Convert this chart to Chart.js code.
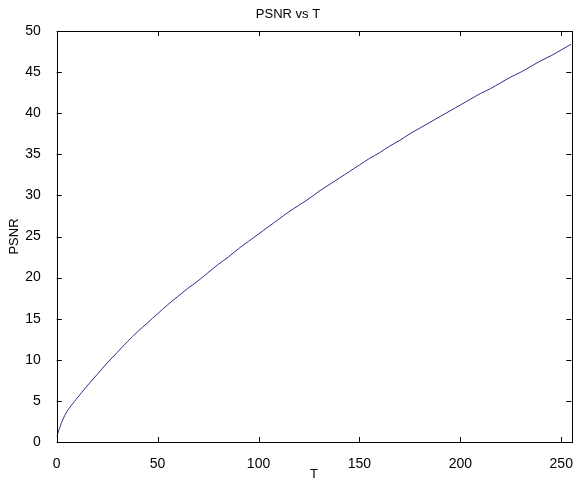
<!DOCTYPE html>
<html>
<head>
<meta charset="utf-8">
<script src="https://cdn.jsdelivr.net/npm/chart.js@4/dist/chart.umd.min.js"></script>
<style>
  html, body { margin: 0; padding: 0; background: #fff; }
  canvas { display: block; }
</style>
</head>
<body>
<canvas id="psnrChart" width="579" height="482"></canvas>
<script>
// T values and PSNR
const tValues = [0, 1, 2, 3, 5, 10, 15, 20, 25, 30, 35, 40, 45, 50, 55, 60, 65, 70, 75, 80, 85, 90, 95,
  100, 105, 110, 115, 120, 125, 130, 135, 140, 145, 150, 155, 160, 165, 170, 175, 180, 185, 190, 195,
  200, 205, 210, 215, 220, 225, 230, 235, 240, 245, 250, 255];
const psnrValues = [0.6, 1.4, 2.1, 2.7, 3.7, 5.3, 6.8, 8.2, 9.6, 10.9, 12.2, 13.4, 14.5, 15.6, 16.7, 17.7, 18.7, 19.6, 20.6, 21.6, 22.5, 23.5, 24.4,
  25.3, 26.2, 27.1, 28.0, 28.8, 29.6, 30.5, 31.3, 32.1, 32.9, 33.7, 34.5, 35.2, 36.0, 36.7, 37.5, 38.2, 38.9, 39.6, 40.3,
  41.0, 41.7, 42.4, 43.0, 43.7, 44.4, 45.0, 45.7, 46.4, 47.0, 47.7, 48.4];
const xTicks = [0, 50, 100, 150, 200, 250];
const yTicks = [0, 5, 10, 15, 20, 25, 30, 35, 40, 45, 50];

const fontFamily = '"Liberation Sans", Arial, sans-serif';

// matlab style box with inward ticks on all four sides
const boxTicks = {
  id: 'boxTicks',
  afterDraw(chart) {
    const { ctx, chartArea: a, scales } = chart;
    const len = 5;
    ctx.save();
    ctx.strokeStyle = '#000';
    ctx.lineWidth = 1;
    ctx.beginPath();
    xTicks.forEach(v => {
      const x = Math.round(scales.x.getPixelForValue(v)) + 0.5;
      ctx.moveTo(x, a.bottom); ctx.lineTo(x, a.bottom - len);
      ctx.moveTo(x, a.top); ctx.lineTo(x, a.top + len);
    });
    yTicks.forEach(v => {
      const y = Math.round(scales.y.getPixelForValue(v)) + 0.5;
      ctx.moveTo(a.left, y); ctx.lineTo(a.left + len, y);
      ctx.moveTo(a.right, y); ctx.lineTo(a.right - len, y);
    });
    ctx.stroke();
    ctx.strokeRect(Math.round(a.left) + 0.5, Math.round(a.top) + 0.5,
      Math.round(a.right - a.left), Math.round(a.bottom - a.top));
    ctx.restore();
  }
};

new Chart(document.getElementById('psnrChart'), {
  type: 'line',
  data: {
    datasets: [{
      data: tValues.map((t, i) => ({ x: t, y: psnrValues[i] })),
      borderColor: '#2e2e8c',
      borderWidth: 1,
      pointRadius: 0,
      tension: 0.3,
      fill: false
    }]
  },
  options: {
    responsive: false,
    animation: false,
    layout: { padding: { left: 0, right: 3, top: 0, bottom: 0 } },
    plugins: {
      legend: { display: false },
      tooltip: { enabled: false },
      title: {
        display: true,
        text: 'PSNR vs T',
        color: '#000',
        font: { family: fontFamily, size: 13, weight: 'normal' },
        padding: { top: 7, bottom: 8.4 }
      }
    },
    scales: {
      x: {
        type: 'linear',
        min: 0,
        max: 255,
        afterBuildTicks: s => { s.ticks = xTicks.map(v => ({ value: v })); },
        afterFit: s => { s.height = 40; },
        ticks: { color: '#000', padding: 6, maxRotation: 0, font: { family: fontFamily, size: 14 } },
        grid: { display: false },
        border: { display: false },
        title: { display: true, text: 'T', color: '#000', padding: { top: 0, bottom: 0 }, font: { family: fontFamily, size: 13 } }
      },
      y: {
        type: 'linear',
        min: 0,
        max: 50,
        afterBuildTicks: s => { s.ticks = yTicks.map(v => ({ value: v })); },
        afterFit: s => { s.width = 56.7; },
        ticks: { color: '#000', padding: 8, font: { family: fontFamily, size: 14 } },
        grid: { display: false },
        border: { display: false },
        title: { display: true, text: 'PSNR', color: '#000', padding: { top: 7, bottom: 0 }, font: { family: fontFamily, size: 13 } }
      }
    }
  },
  plugins: [boxTicks]
});
</script>
</body>
</html>
